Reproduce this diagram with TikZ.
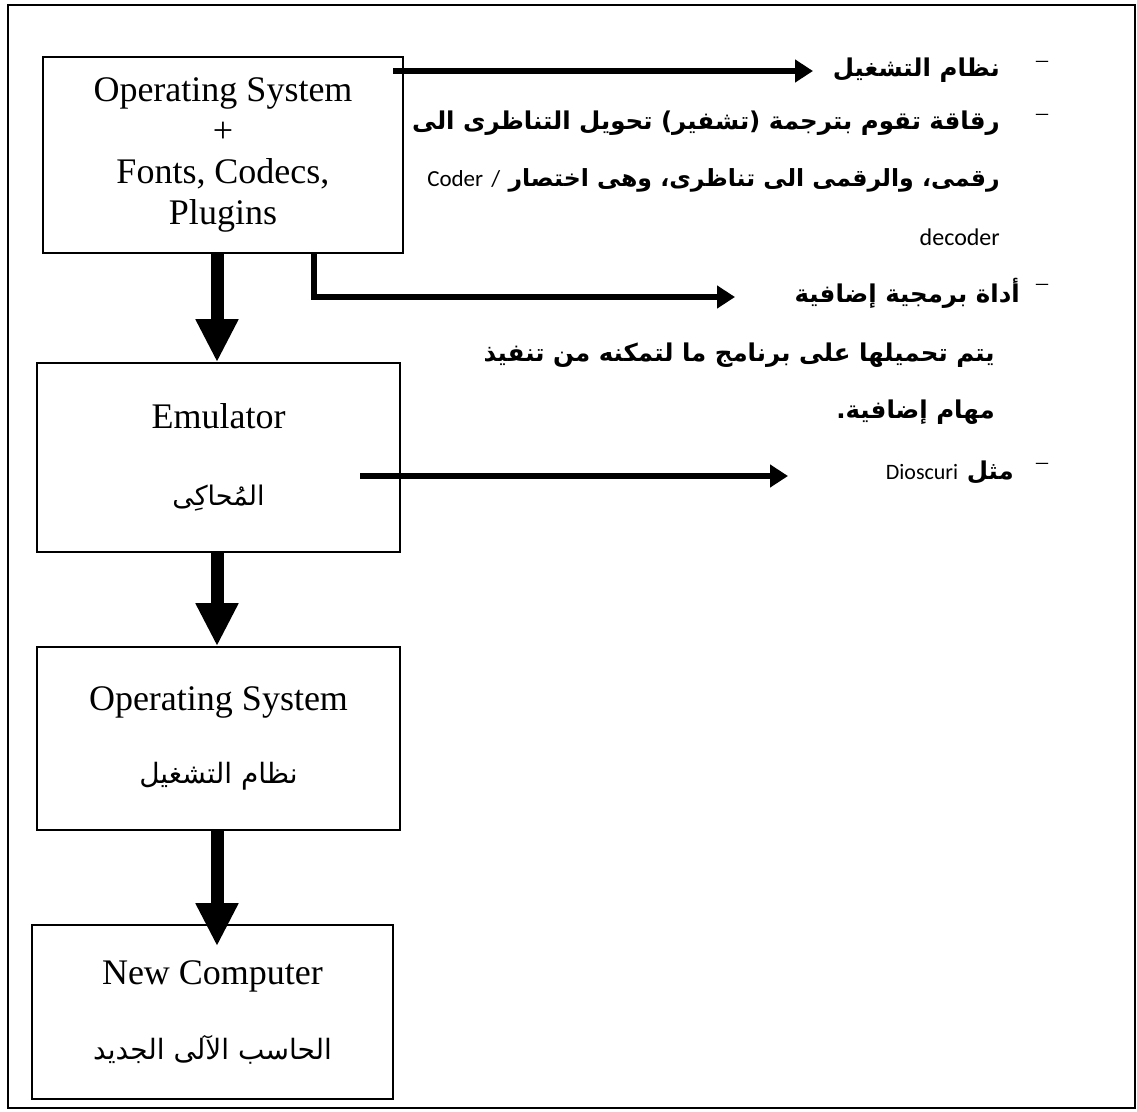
\documentclass[tikz,border=0pt]{standalone}
\usepackage{fontspec}
\setmainfont{Liberation Serif}
\newfontfamily\arb[Script=Arabic]{DejaVu Sans}
\newfontfamily\lat{Carlito}
\TeXXeTstate=1
\usetikzlibrary{arrows.meta}

\begin{document}
\begin{tikzpicture}[x=1pt,y=-1pt,
  box/.style={draw,line width=1.6pt,inner sep=0pt,align=center,
    font=\fontsize{36}{41}\selectfont},
  note/.style={inner sep=0pt,anchor=east,font=\arb\bfseries\fontsize{24.5}{28}\selectfont},
  latnote/.style={inner sep=0pt,anchor=east,font=\lat\fontsize{24}{28}\selectfont},
  bullet/.style={inner sep=0pt,font=\fontsize{24}{26}\selectfont},
  bigarrow/.style={line width=13pt,-{Triangle[width=40pt,length=43pt]}},
  thinarrow/.style={line width=6.5pt,line join=miter,-{Triangle[width=22pt,length=18pt]}}]

\useasboundingbox (0,0) rectangle (1137,1111);
% outer frame
\draw[line width=1.5pt] (8,5) rectangle (1135,1108);

% boxes of the stack
\node[box,minimum width=360pt,minimum height=196pt] (b1) at (223,155)
  {Operating System\\+\\Fonts, Codecs,\\Plugins};
\node[box,minimum width=363pt,minimum height=189pt] (b2) at (218.5,457.5)
  {Emulator\\[36pt]{\arb\fontsize{27}{30}\selectfont\beginR المُحاكِى\endR}};
\node[box,minimum width=363pt,minimum height=183pt] (b3) at (218.5,738.5)
  {Operating System\\[32pt]{\arb\fontsize{28}{30}\selectfont\beginR نظام التشغيل\endR}};
\node[box,minimum width=361pt,minimum height=174pt] (b4) at (212.5,1012)
  {New Computer\\[34pt]{\arb\fontsize{28}{30}\selectfont\beginR الحاسب الآلى الجديد\endR}};

% vertical spine of the big arrows
\coordinate (spine) at (217,0);
\draw[bigarrow] (b1.south -| spine) -- (b2.north -| spine);
\draw[bigarrow] (b2.south -| spine) -- (b3.north -| spine);
\draw[bigarrow] (b3.south -| spine) -- ([yshift=-22pt]b4.north -| spine);

% explanatory notes on the right
\node[note] (t1) at (1000,70) {\beginR نظام التشغيل\endR};
\node[note] (t2) at (1000,123) {\beginR رقاقة تقوم بترجمة (تشفير) تحويل التناظرى الى\endR};
\node[note,font=\arb\bfseries\fontsize{23.6}{28}\selectfont] (t3) at (1000,180)
  {\beginR رقمى، والرقمى الى تناظرى، وهى اختصار {\mdseries\lat\fontsize{23}{28}\selectfont /} {\mdseries\lat\fontsize{23}{28}\selectfont\beginL Coder\endL}\endR};
\node[latnote] (t4) at (1000,237) {decoder};
\node[note] (t5) at (1020,293) {\beginR أداة برمجية إضافية\endR};
\node[note] (t6) at (995,355) {\beginR يتم تحميلها على برنامج ما لتمكنه من تنفيذ\endR};
\node[note] (t7) at (995,412) {\beginR مهام إضافية.\endR};
\node[note] (t8) at (1014,472) {\beginR مثل {\mdseries\lat\fontsize{22}{26}\selectfont\beginL Dioscuri\endL}\endR};

% list dashes
\node[bullet] (d1) at (1042,64) {–};
\node[bullet] (d2) at (1042,117) {–};
\node[bullet] (d5) at (1042,287) {–};
\node[bullet] (d8) at (1042,466) {–};

% connectors from the boxes to the notes
\coordinate (a1s) at (393,71);
\coordinate (a1e) at (813,71);
\draw[thinarrow] (a1s) -- (a1e);

\coordinate (a2c) at (314,297);
\coordinate (a2e) at (735,297);
\draw[thinarrow] (b1.south -| a2c) -- (a2c) -- (a2e);

\coordinate (a3s) at (360,476);
\coordinate (a3e) at (788,476);
\draw[thinarrow] (a3s) -- (a3e);
\end{tikzpicture}
\end{document}
